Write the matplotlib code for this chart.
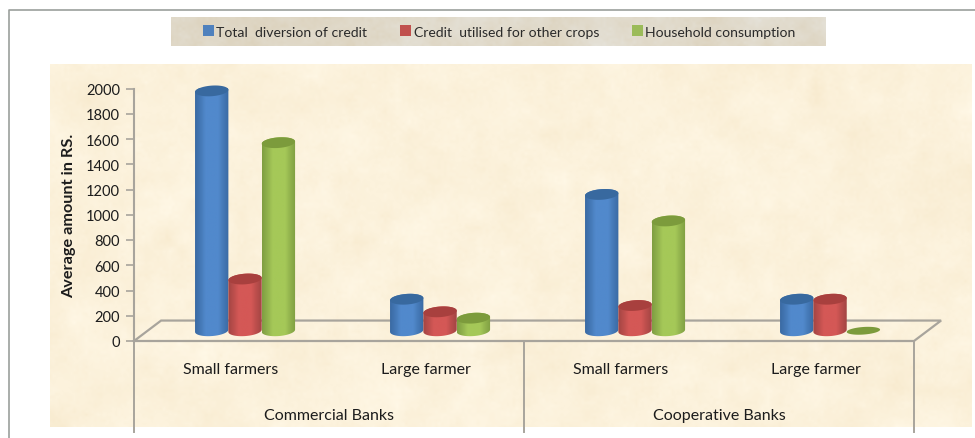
import numpy as np
import matplotlib

matplotlib.use("Agg")
import matplotlib.pyplot as plt
from matplotlib.colors import LinearSegmentedColormap
from matplotlib.patches import PathPatch, Rectangle
from matplotlib.path import Path

plt.rcParams["font.family"] = ["Lato", "DejaVu Sans"]

W, H = 975, 439

groups = ["Commercial Banks", "Cooperative Banks"]
farmers = ["Small farmers", "Large farmer", "Small farmers", "Large farmer"]
series_names = ["Total  diversion of credit", "Credit  utilised for other crops", "Household consumption"]
total_diversion = [1900, 250, 1080, 250]
other_crops = [410, 150, 200, 250]
household = [1490, 100, 870, 0]
y_ticks = [0, 200, 400, 600, 800, 1000, 1200, 1400, 1600, 1800, 2000]

# edge, highlight, top cap
blue = ("#3a6aa3", "#5189cc", "#38699f")
red = ("#a34543", "#d45856", "#a8403e")
green = ("#7f9e42", "#a5c858", "#7c9b3c")

AXIS = "#a8a49c"
TEXT = "#1c1c1c"
BAR_W = 0.171
DEPTH_X = 0.139  # shift of the floor's back edge, x units
DEPTH_Y = 162.0  # same, y units
CAP_H = 42.0  # half height of the cylinder ellipse
CAP_TILT = 9.0


def px_box(x0, y0, x1, y1):
    return [x0 / W, 1 - y1 / H, (x1 - x0) / W, (y1 - y0) / H]


def texture(rng, h, w, base, amount):
    # smoothed noise layered at a couple of scales, only a paper effect
    out = np.zeros((h, w))
    for cell, weight in ((40, 1.0), (12, 0.6), (3, 0.35)):
        coarse = rng.normal(size=(h // cell + 2, w // cell + 2))
        yi = np.linspace(0, coarse.shape[0] - 1.001, h)
        xi = np.linspace(0, coarse.shape[1] - 1.001, w)
        y0, x0 = yi.astype(int), xi.astype(int)
        fy, fx = (yi - y0)[:, None], (xi - x0)[None, :]
        out += weight * (
            coarse[y0][:, x0] * (1 - fy) * (1 - fx)
            + coarse[y0 + 1][:, x0] * fy * (1 - fx)
            + coarse[y0][:, x0 + 1] * (1 - fy) * fx
            + coarse[y0 + 1][:, x0 + 1] * fy * fx
        )
    rgb = np.array(matplotlib.colors.to_rgb(base))
    return np.clip(rgb[None, None, :] + amount * out[:, :, None] * np.array([0.5, 0.9, 1.6]), 0, 1)


def ellipse_path(cx, cy, half_w, cap_h=CAP_H):
    t = np.linspace(0, 2 * np.pi, 60)
    return Path(np.column_stack([cx + half_w * np.cos(t), cy + cap_h * np.sin(t) + CAP_TILT * np.cos(t)]))


def cylinder(ax, cx, value, colors):
    half = BAR_W / 2
    bx = cx + DEPTH_X / 2
    by = DEPTH_Y / 2
    top = by + value
    if value == 0:
        # a zero bar is only a flat disc on the floor
        ax.add_patch(PathPatch(ellipse_path(bx, by, half, 30.0), fc=colors[2], ec="none", zorder=3))
        return
    t = np.linspace(np.pi, 2 * np.pi, 30)
    low = np.column_stack([bx + half * np.cos(t), by + CAP_H * np.sin(t) + CAP_TILT * np.cos(t)])
    t2 = np.linspace(0, np.pi, 30)
    high = np.column_stack([bx + half * np.cos(t2), top + CAP_H * np.sin(t2) + CAP_TILT * np.cos(t2)])
    body = Path(np.vstack([low, high, low[:1]]))
    cmap = LinearSegmentedColormap.from_list("c", [colors[0], colors[1], colors[1], colors[0]], N=64)
    grad = np.interp(np.linspace(0, 1, 64), [0, 0.38, 0.62, 1], [0, 0.4, 0.6, 1])[None, :]
    im = ax.imshow(grad, cmap=cmap, aspect="auto", zorder=3, interpolation="bilinear",
                   extent=(bx - half, bx + half, by - CAP_H - CAP_TILT, top + CAP_H + CAP_TILT))
    im.set_clip_box(None)
    im.set_clip_path(PathPatch(body, transform=ax.transData))
    ax.add_patch(PathPatch(ellipse_path(bx, top, half), fc=colors[2], ec="none", zorder=3.1, clip_on=False))


fig = plt.figure(figsize=(W / 100, H / 100), dpi=100, facecolor="white")

# outer chart frame
bg = fig.add_axes([0, 0, 1, 1], zorder=0)
bg.set_xlim(0, W)
bg.set_ylim(H, 0)
bg.axis("off")
bg.plot([8.5, 8.5, 975], [439, 10.5, 10.5], color="#9b9f9c", lw=1.2, solid_capstyle="butt")

rng = np.random.default_rng(7)
paper = fig.add_axes(px_box(50, 65, 972, 428), zorder=1)
paper.imshow(texture(rng, 363, 922, "#fcf2dc", 0.009), aspect="auto", interpolation="bilinear")
paper.axis("off")

strip = fig.add_axes(px_box(171, 18, 826, 47), zorder=1)
strip.imshow(texture(rng, 29, 655, "#e0d9c9", 0.014), aspect="auto", interpolation="nearest")
strip.axis("off")

ax = fig.add_axes(px_box(134, 89.5, 914, 342), zorder=2)
ax.patch.set_alpha(0)
ax.set_xlim(0, 4)
ax.set_ylim(0, 2000)
ax.set_autoscale_on(False)

for side in ("top", "right", "bottom"):
    ax.spines[side].set_visible(False)
ax.spines["left"].set_color(AXIS)
ax.spines["left"].set_linewidth(1.5)
ax.set_xticks([])
ax.set_yticks(y_ticks)
ax.tick_params(axis="y", length=6, width=1.2, color=AXIS, labelsize=10.5, labelcolor=TEXT, pad=4)
ax.set_ylabel("Average amount in RS.", fontsize=11.7, fontweight="bold", color=TEXT, labelpad=7)

# floor outline and the multi-level category separators
floor_x = [0, 4, 4 + DEPTH_X, DEPTH_X, 0]
floor_y = [0, 0, DEPTH_Y, DEPTH_Y, 0]
ax.plot(floor_x, floor_y, color=AXIS, lw=1.6, clip_on=False, zorder=2, solid_joinstyle="miter")
for x in (0, 2, 4):
    ax.plot([x, x], [0, -720], color=AXIS, lw=1.4, clip_on=False, zorder=2)

for i, (a, b, c) in enumerate(zip(total_diversion, other_crops, household)):
    center = i + 0.5
    cylinder(ax, center - BAR_W, a, blue)
    cylinder(ax, center, b, red)
    cylinder(ax, center + BAR_W, c, green)
    ax.text(center - 0.005, -222, farmers[i], ha="center", va="center", fontsize=11.5, color=TEXT, zorder=4)

for i, name in enumerate(groups):
    ax.text(2 * i + 1, -588, name, ha="center", va="center", fontsize=11.5, color=TEXT, zorder=4)

handles = [Rectangle((0, 0), 1, 1, fc=c, ec="none") for c in ("#4f81bd", "#c0504d", "#9bbb59")]
fig.legend(handles, series_names, loc="center", bbox_to_anchor=(499.5 / W, 1 - 32.5 / H), ncols=3,
           frameon=False, fontsize=10.1, handlelength=0.75, handleheight=0.75, handletextpad=0.2,
           columnspacing=2.35, labelcolor="#2a2a2a")

fig.savefig("out.png", dpi=100)
